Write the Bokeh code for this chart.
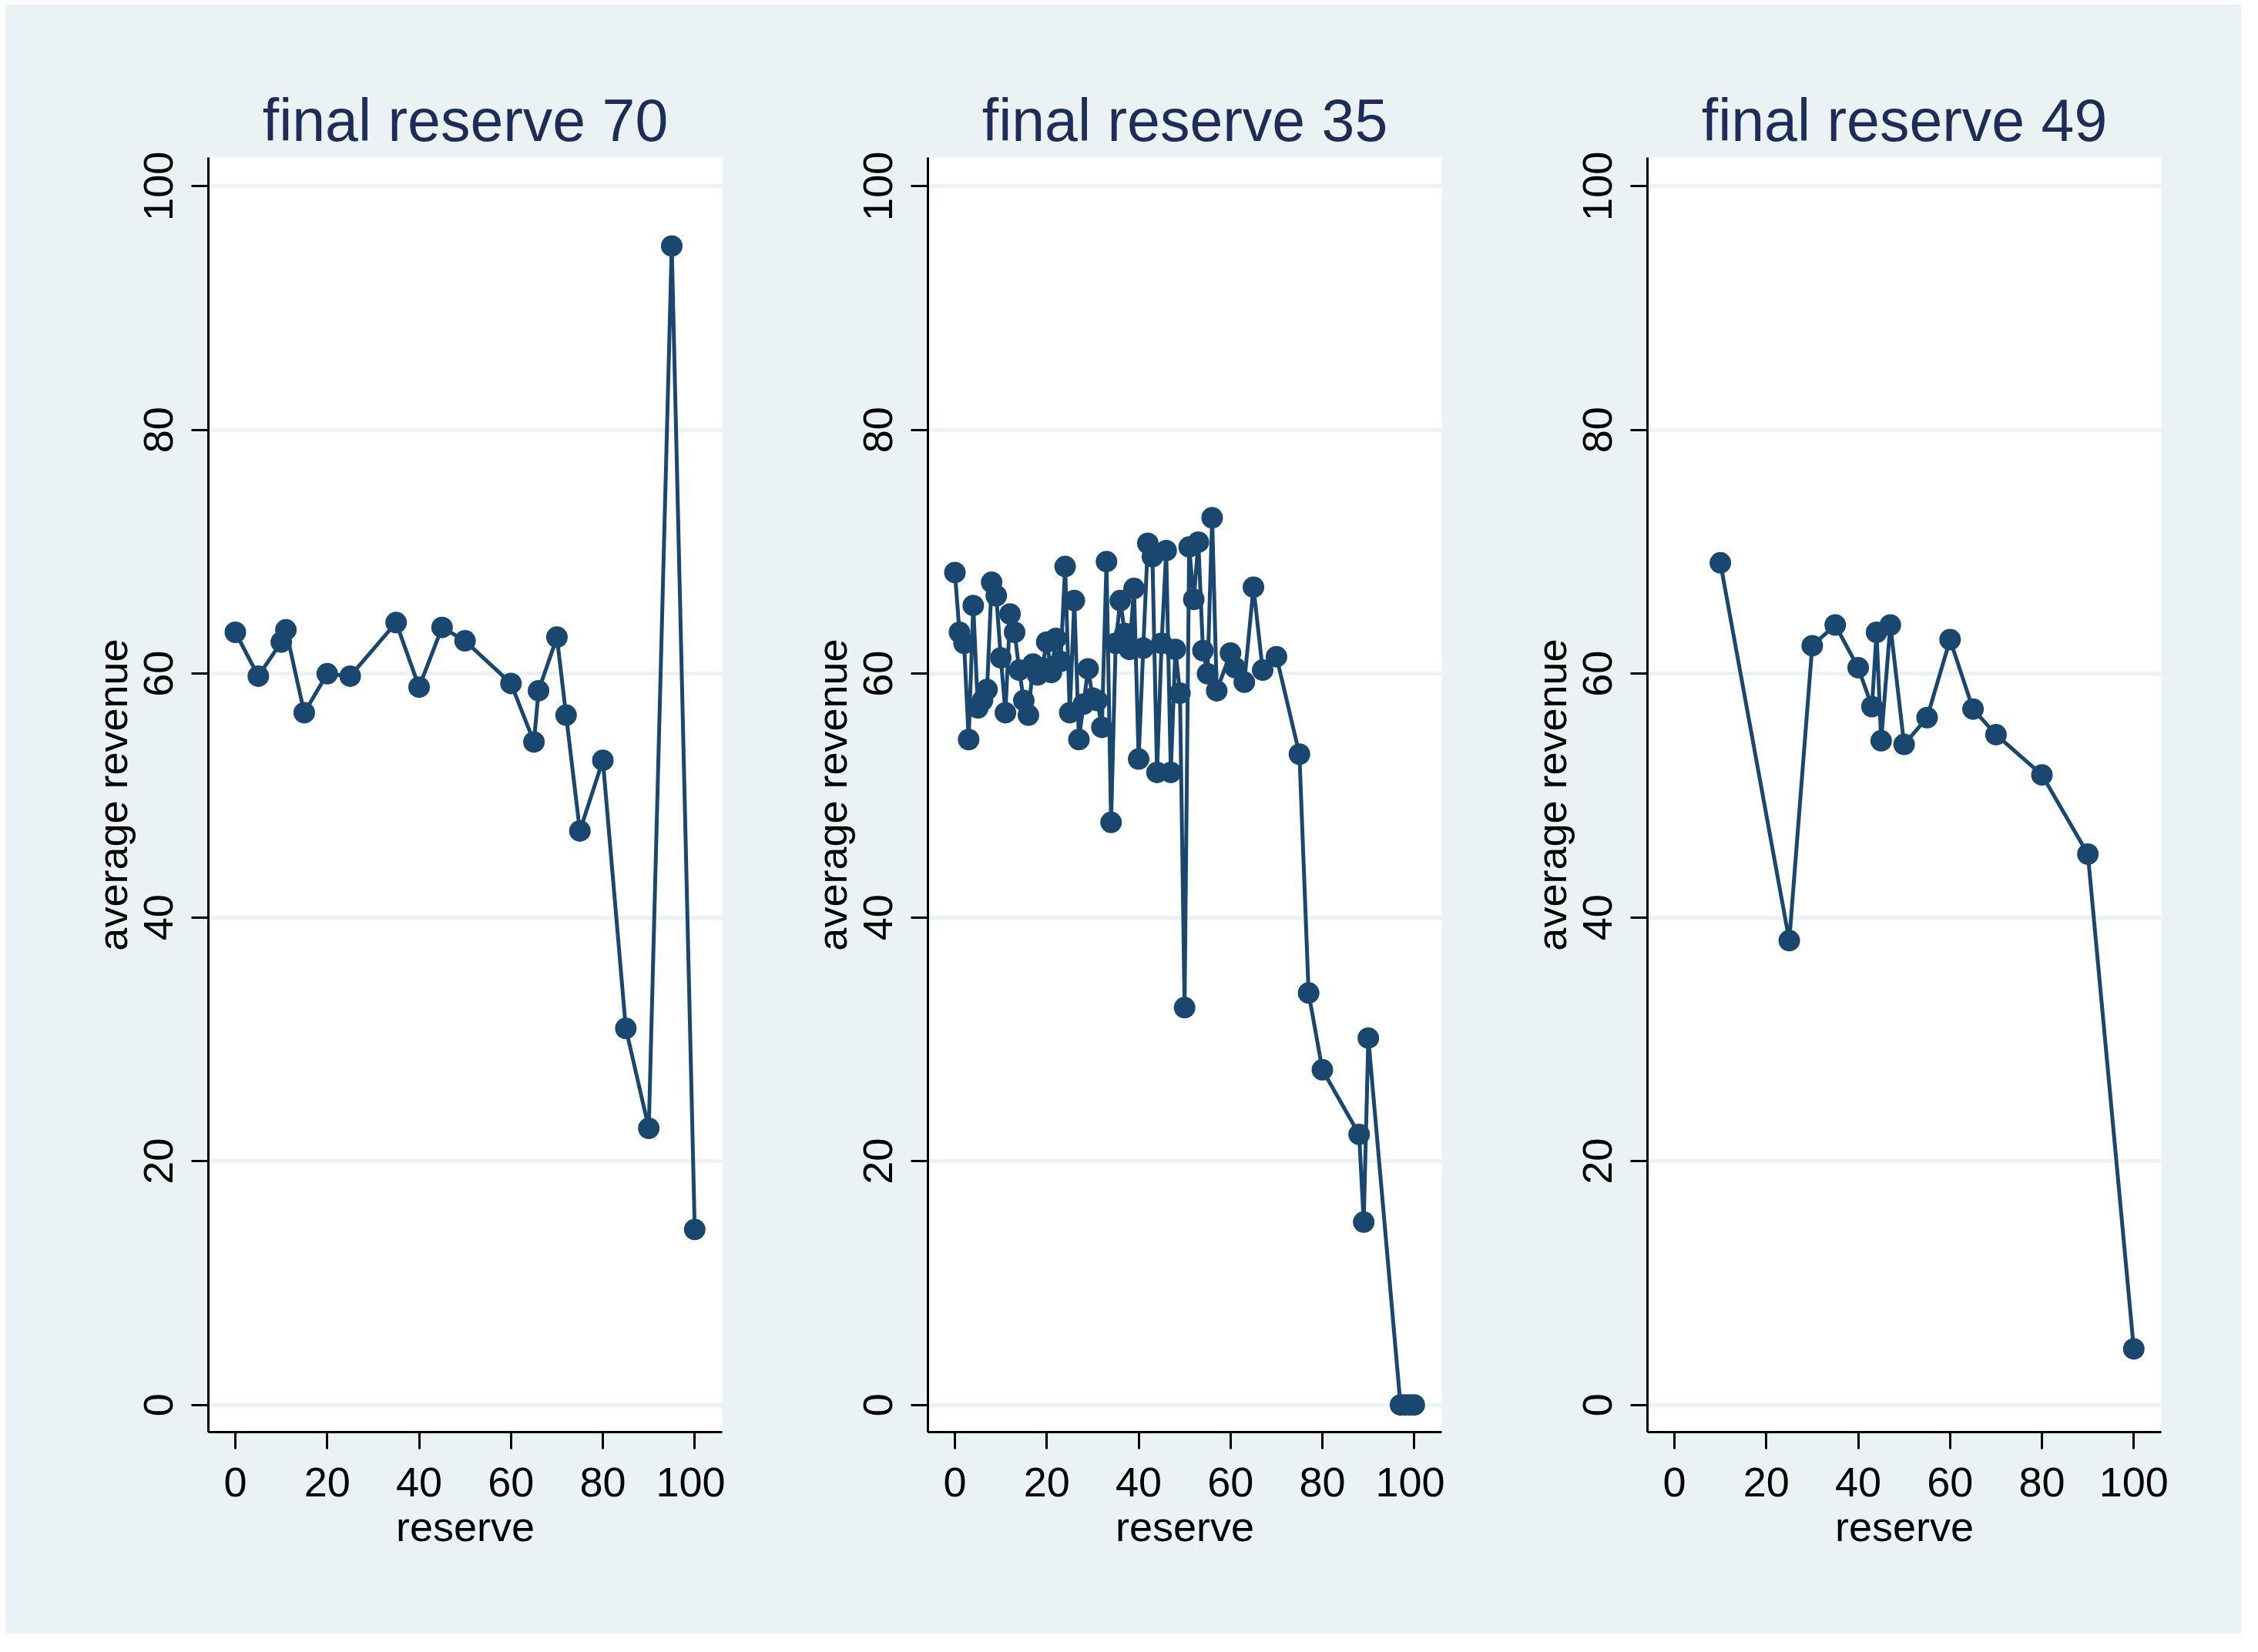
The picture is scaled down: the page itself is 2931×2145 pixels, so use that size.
import math
from bokeh.plotting import figure
from bokeh.layouts import row, column
from bokeh.models import Range1d, FixedTicker, Spacer
from bokeh.embed import file_html
from bokeh.resources import INLINE

# ---- data ----
titles = ["final reserve 70", "final reserve 35", "final reserve 49"]

res70_x = [0, 5, 10, 11, 15, 20, 25, 35, 40, 45, 50, 60, 65, 66, 70, 72, 75, 80, 85, 90, 95, 100]
res70_y = [63.4, 59.8, 62.6, 63.6, 56.8, 60.0, 59.8, 64.2, 58.9, 63.8, 62.7, 59.2, 54.4, 58.6,
           63.0, 56.6, 47.1, 52.9, 30.9, 22.7, 95.1, 14.4]

res35_x = [0, 1, 2, 3, 4, 5, 6, 7, 8, 9, 10, 11, 12, 13, 14, 15, 16, 17, 18, 19, 20,
           21, 22, 23, 24, 25, 26, 27, 28, 29, 30, 31, 32, 33, 34, 35, 36, 37, 38, 39, 40,
           41, 42, 43, 44, 45, 46, 47, 48, 49, 50, 51, 52, 53, 54, 55, 56, 57, 60, 61, 63,
           65, 67, 70, 75, 77, 80, 88, 89, 90, 97, 98, 99, 100]
res35_y = [68.3, 63.4, 62.5, 54.6, 65.6, 57.2, 57.8, 58.7, 67.5, 66.4, 61.3, 56.8, 64.9, 63.4,
           60.3, 57.8, 56.6, 60.8, 59.9, 60.5, 62.6, 60.1, 62.9, 61.0, 68.8, 56.8, 66.0, 54.6,
           57.5, 60.4, 58.0, 57.8, 55.6, 69.2, 47.8, 62.5, 66.0, 63.3, 62.0, 67.0, 53.0, 62.1,
           70.7, 69.6, 51.9, 62.5, 70.1, 51.9, 62.0, 58.4, 32.6, 70.4, 66.1, 70.8, 61.9, 60.0,
           72.8, 58.6, 61.7, 60.5, 59.3, 67.1, 60.3, 61.4, 53.4, 33.8, 27.5, 22.2, 15.0, 30.1,
           0.0, 0.0, 0.0, 0.0]

res49_x = [10, 25, 30, 35, 40, 43, 44, 45, 47, 50, 55, 60, 65, 70, 80, 90, 100]
res49_y = [69.1, 38.1, 62.3, 64.0, 60.5, 57.3, 63.4, 54.5, 64.0, 54.2, 56.4, 62.8, 57.1,
           55.0, 51.7, 45.2, 4.6]

x_ticks = [0, 20, 40, 60, 80, 100]
y_ticks = [0, 20, 40, 60, 80, 100]

# ---- style ----
BG = "#EAF2F3"
NAVY = "#1A476F"
TITLE_C = "#1E2D57"
FONT = "Liberation Sans"

series = [(res70_x, res70_y), (res35_x, res35_y), (res49_x, res49_y)]
right_borders = [4, 4, 104]
widths = [934, 934, 1034]

figs = []
for i, (xs, ys) in enumerate(series):
    p = figure(width=widths[i], height=2115, output_backend="svg", toolbar_location=None,
               x_range=Range1d(-5.87, 105.99), y_range=Range1d(-2.23, 102.36),
               min_border_left=263, min_border_right=right_borders[i],
               min_border_top=198, min_border_bottom=262,
               background_fill_color="white", border_fill_color=BG,
               outline_line_color=None)
    p.title.text = titles[i]
    p.title.align = "center"
    p.title.text_font = FONT
    p.title.text_font_size = "77px"
    p.title.text_font_style = "normal"
    p.title.text_color = TITLE_C
    p.title.standoff = 12

    p.line(xs, ys, line_color=NAVY, line_width=5)
    p.scatter(xs, ys, size=28, fill_color=NAVY, line_color=None, marker="circle")

    p.xgrid.visible = False
    p.ygrid.ticker = FixedTicker(ticks=y_ticks)
    p.ygrid.grid_line_color = BG
    p.ygrid.grid_line_width = 5

    for ax in (p.xaxis[0], p.yaxis[0]):
        ax.axis_line_width = 3
        ax.axis_line_color = "black"
        ax.major_tick_line_width = 3
        ax.major_tick_line_color = "black"
        ax.major_tick_out = 22
        ax.major_tick_in = 0
        ax.minor_tick_line_color = None
        ax.major_label_text_font = FONT
        ax.major_label_text_font_size = "54px"
        ax.major_label_text_color = "black"
        ax.axis_label_text_font = FONT
        ax.axis_label_text_font_size = "54px"
        ax.axis_label_text_font_style = "normal"
        ax.axis_label_text_color = "black"

    p.xaxis.ticker = FixedTicker(ticks=x_ticks)
    p.yaxis.ticker = FixedTicker(ticks=y_ticks)
    p.xaxis.axis_label = "reserve"
    p.yaxis.axis_label = "average revenue"
    p.yaxis.major_label_orientation = "parallel"
    p.xaxis.major_label_standoff = 24
    p.yaxis.major_label_standoff = 24
    p.xaxis.axis_label_standoff = 6
    p.yaxis.axis_label_standoff = 9
    figs.append(p)

panels = row(*figs, styles={"background-color": BG})
layout = column(Spacer(width=2909, height=6),
                row(Spacer(width=7, height=2115), panels))
open("out.html", "w").write(file_html(layout, INLINE))
